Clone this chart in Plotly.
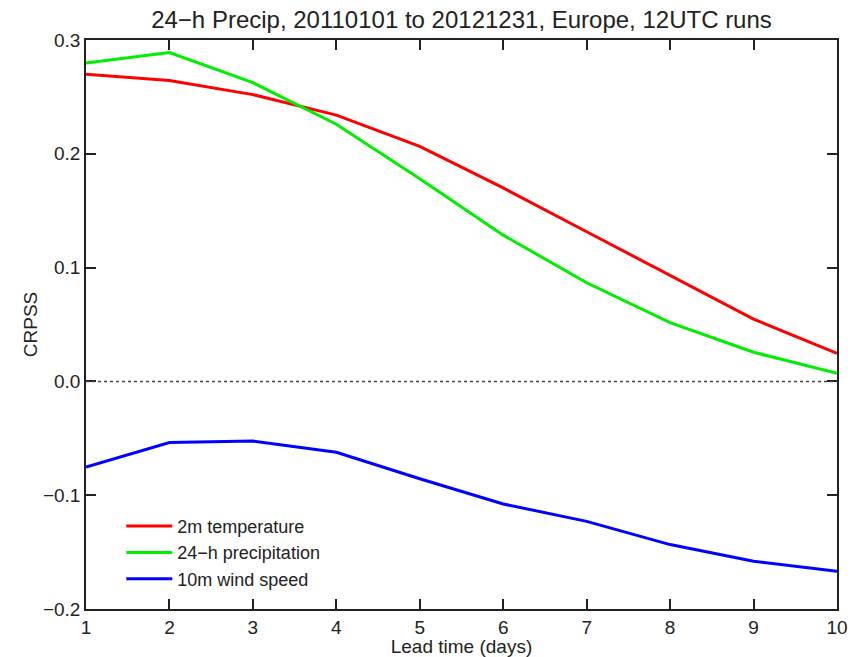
import plotly.graph_objects as go

# lead time in days
lead_days = [1, 2, 3, 4, 5, 6, 7, 8, 9, 10]

# CRPSS per parameter
crpss_t2m = [0.270, 0.2645, 0.252, 0.234, 0.2065, 0.170, 0.1315, 0.0935, 0.0548, 0.0247]
crpss_tp = [0.2797, 0.289, 0.2625, 0.226, 0.178, 0.1285, 0.0867, 0.0516, 0.0256, 0.0072]
crpss_ws = [-0.0752, -0.0538, -0.0524, -0.0623, -0.0855, -0.1077, -0.1230, -0.1434, -0.1580, -0.1668]

series_names = ["2m temperature", "24\u2212h precipitation", "10m wind speed"]
series_colors = ["#ff0000", "#00ee00", "#0000ff"]

ytick_vals = [-0.2, -0.1, 0.0, 0.1, 0.2, 0.3]
ytick_text = ["\u22120.2", "\u22120.1", "0.0", "0.1", "0.2", "0.3"]

FONT = "Liberation Sans, Arial, Helvetica, sans-serif"

fig = go.Figure()
for name, vals, col in zip(series_names, [crpss_t2m, crpss_tp, crpss_ws], series_colors):
    fig.add_trace(go.Scatter(x=lead_days, y=vals, name=name, mode="lines",
                             line=dict(color=col, width=3)))

# zero reference line
fig.add_hline(y=0, line=dict(color="#444444", width=1.5, dash="dot"))

axis_style = dict(showline=True, linecolor="#222222", linewidth=1.5, mirror="ticks",
                  ticks="inside", ticklen=10, tickwidth=1.5, tickcolor="#222222",
                  showgrid=False, zeroline=False, tickfont=dict(size=19, color="#222222"))

fig.update_xaxes(range=[1, 10], tickvals=lead_days, **axis_style,
                 title=dict(text="Lead time (days)", font=dict(size=19, color="#222222"), standoff=0))
fig.update_yaxes(range=[-0.2, 0.3], tickvals=ytick_vals, ticktext=ytick_text, **axis_style,
                 title=dict(text="CRPSS", font=dict(size=19, color="#222222"), standoff=0))

fig.update_layout(
    width=861, height=657,
    margin=dict(l=86, r=24, t=40, b=48, autoexpand=False),
    paper_bgcolor="white", plot_bgcolor="white",
    font=dict(family=FONT, color="#222222"),
    title=dict(text="24\u2212h Precip, 20110101 to 20121231, Europe, 12UTC runs",
               x=0.5, xref="paper", y=0.9696, yanchor="middle",
               font=dict(size=24, color="#222222")),
    legend=dict(x=0.047, y=0.0988, xanchor="left", yanchor="middle",
                bgcolor="rgba(0,0,0,0)", borderwidth=0, itemwidth=46,
                font=dict(size=18, color="#222222"), tracegroupgap=0),
    showlegend=True,
)

# the page gets no default body margin so the figure sits at the window corner
fig.write_html("out.html", config={"displayModeBar": False},
               post_script="document.body.style.margin='0';")
